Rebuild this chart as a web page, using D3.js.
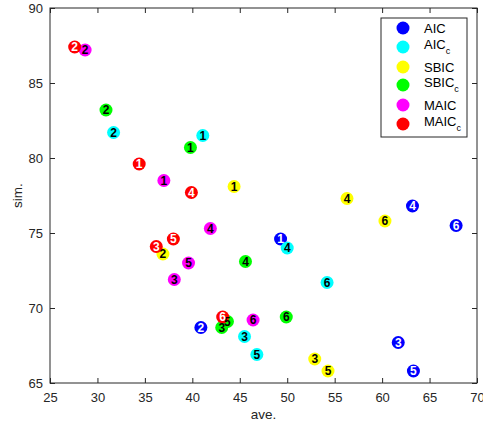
<!DOCTYPE html>
<html>
<head>
<meta charset="utf-8">
<script src="https://cdn.jsdelivr.net/npm/d3@7"></script>
<style>
  body { margin: 0; background: #fff; }
  svg { font-family: "Liberation Sans", Helvetica, Arial, sans-serif; }
</style>
</head>
<body>
<svg id="chart" width="483" height="427"></svg>
<script>
// methods, in drawing order
var methods = ['AIC', 'AICc', 'SBIC', 'SBICc', 'MAIC', 'MAICc'];
var colors = ['#0000ff', '#00ffff', '#ffff00', '#00ff00', '#ff00ff', '#ff0000'];
var labelColors = ['#fff', '#000', '#000', '#000', '#000', '#fff'];

// ave. values, points 1..6 for each method
var aveAIC   = [49.3, 40.9, 61.7, 63.2, 63.3, 67.8];
var aveAICc  = [41.1, 31.7, 45.5, 50.0, 46.8, 54.2];
var aveSBIC  = [44.4, 36.9, 52.9, 56.3, 54.3, 60.3];
var aveSBICc = [39.8, 30.9, 43.1, 45.6, 43.7, 49.9];
var aveMAIC  = [37.0, 28.7, 38.1, 41.9, 39.6, 46.4];
var aveMAICc = [34.4, 27.6, 36.2, 39.9, 38.0, 43.2];

// sim. values, points 1..6 for each method
var simAIC   = [74.6, 68.7, 67.7, 76.8, 65.8, 75.5];
var simAICc  = [81.5, 81.7, 68.1, 74.0, 66.9, 71.7];
var simSBIC  = [78.1, 73.6, 66.6, 77.3, 65.8, 75.8];
var simSBICc = [80.7, 83.2, 68.7, 73.1, 69.1, 69.4];
var simMAIC  = [78.5, 87.2, 71.9, 75.3, 73.0, 69.2];
var simMAICc = [79.6, 87.4, 74.1, 77.7, 74.6, 69.4];

var xTicks = [25, 30, 35, 40, 45, 50, 55, 60, 65, 70];
var yTicks = [65, 70, 75, 80, 85, 90];

var aves = [aveAIC, aveAICc, aveSBIC, aveSBICc, aveMAIC, aveMAICc];
var sims = [simAIC, simAICc, simSBIC, simSBICc, simMAIC, simMAICc];

var svg = d3.select('#chart');
var pLeft = 50, pRight = 477, pTop = 8, pBottom = 383;
var axisColor = '#262626';

var x = d3.scaleLinear().domain([25, 70]).range([pLeft, pRight]);
var y = d3.scaleLinear().domain([65, 90]).range([pBottom, pTop]);

// flatten into points
var points = [];
methods.forEach(function(m, k) {
  aves[k].forEach(function(v, i) {
    points.push({k: k, n: i + 1, ave: v, sim: sims[k][i]});
  });
});

// axes (ticks inward)
function styleAxis(g) {
  g.select('.domain').remove();
  g.selectAll('line').attr('stroke', axisColor);
  g.selectAll('text').attr('fill', axisColor).style('font-size', '13px');
}
svg.append('g').attr('transform', 'translate(0,' + pBottom + ')')
  .call(d3.axisBottom(x).tickValues(xTicks).tickSizeInner(-5).tickSizeOuter(0).tickPadding(10))
  .call(styleAxis);
svg.append('g').attr('transform', 'translate(0,' + pTop + ')')
  .call(d3.axisTop(x).tickValues(xTicks).tickSizeInner(-5).tickSizeOuter(0).tickFormat(''))
  .call(styleAxis);
svg.append('g').attr('transform', 'translate(' + pLeft + ',0)')
  .call(d3.axisLeft(y).tickValues(yTicks).tickSizeInner(-5).tickSizeOuter(0).tickPadding(7))
  .call(styleAxis);
svg.append('g').attr('transform', 'translate(' + pRight + ',0)')
  .call(d3.axisRight(y).tickValues(yTicks).tickSizeInner(-5).tickSizeOuter(0).tickFormat(''))
  .call(styleAxis);

svg.append('rect')
  .attr('x', pLeft).attr('y', pTop)
  .attr('width', pRight - pLeft).attr('height', pBottom - pTop)
  .attr('fill', 'none').attr('stroke', axisColor).attr('stroke-width', 1);

// axis labels
svg.append('text').attr('x', (pLeft + pRight) / 2).attr('y', 419)
  .attr('text-anchor', 'middle').attr('fill', axisColor).style('font-size', '13.5px').text('ave.');
svg.append('text').attr('transform', 'translate(22,' + ((pTop + pBottom) / 2) + ') rotate(-90)')
  .attr('text-anchor', 'middle').attr('fill', axisColor).style('font-size', '13.5px').text('sim.');

// circles first, then numbers on top
svg.selectAll('circle.pt')
  .data(points)
  .enter()
  .append('circle')
  .attr('class', 'pt')
  .attr('cx', function(d) { return x(d.ave); })
  .attr('cy', function(d) { return y(d.sim); })
  .attr('r', 6.5)
  .style('fill', function(d) { return colors[d.k]; });

svg.selectAll('text.num')
  .data(points)
  .enter()
  .append('text')
  .attr('class', 'num')
  .attr('x', function(d) { return x(d.ave); })
  .attr('y', function(d) { return y(d.sim) + 4.3; })
  .attr('text-anchor', 'middle')
  .style('font-size', '12px')
  .style('font-weight', 'bold')
  .style('fill', function(d) { return labelColors[d.k]; })
  .text(function(d) { return d.n; });

// legend
var lg = svg.append('g');
lg.append('rect').attr('x', 381).attr('y', 18).attr('width', 86).attr('height', 119)
  .attr('fill', '#fff').attr('stroke', axisColor).attr('stroke-width', 1);
var rowY = [28, 47, 67, 85, 105, 124];
methods.forEach(function(m, k) {
  lg.append('circle').attr('cx', 403).attr('cy', rowY[k]).attr('r', 6.5).style('fill', colors[k]);
  var t = lg.append('text').attr('x', 424).attr('y', rowY[k] + 4.5)
    .style('font-size', '13px').attr('fill', '#000');
  if (m.slice(-1) === 'c') {
    t.append('tspan').text(m.slice(0, -1));
    t.append('tspan').attr('dy', 5).style('font-size', '9px').text('c');
    t.attr('y', rowY[k] + 1.5);
  } else {
    t.text(m);
  }
});
</script>
</body>
</html>
